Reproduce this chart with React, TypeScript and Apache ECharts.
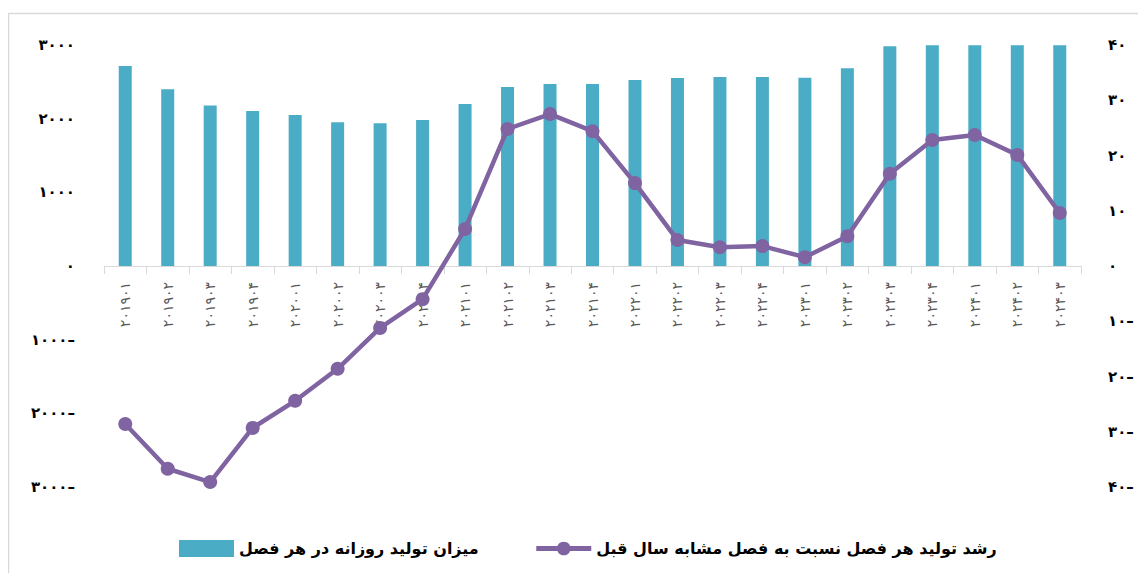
import React, { useEffect, useRef } from "react";
import * as echarts from "echarts";

const categories = [
  "۲۰۱۹۰۱", "۲۰۱۹۰۲", "۲۰۱۹۰۳", "۲۰۱۹۰۴",
  "۲۰۲۰۰۱", "۲۰۲۰۰۲", "۲۰۲۰۰۳", "۲۰۲۰۰۴",
  "۲۰۲۱۰۱", "۲۰۲۱۰۲", "۲۰۲۱۰۳", "۲۰۲۱۰۴",
  "۲۰۲۲۰۱", "۲۰۲۲۰۲", "۲۰۲۲۰۳", "۲۰۲۲۰۴",
  "۲۰۲۳۰۱", "۲۰۲۳۰۲", "۲۰۲۳۰۳", "۲۰۲۳۰۴",
  "۲۰۲۴۰۱", "۲۰۲۴۰۲", "۲۰۲۴۰۳",
];

const dailyProduction = [
  2715, 2400, 2180, 2105, 2050, 1950, 1937, 1982,
  2200, 2430, 2470, 2470, 2525, 2552, 2566, 2566,
  2556, 2684, 2982, 2995, 2995, 2995, 2995,
];

const yoyGrowth = [
  -28.6, -36.7, -39.1, -29.3, -24.4, -18.6, -11.2, -6.0,
  6.7, 24.8, 27.5, 24.4, 15.0, 4.7, 3.4, 3.6,
  1.6, 5.4, 16.7, 22.8, 23.7, 20.1, 9.6,
];

const barName = "میزان تولید روزانه در هر فصل";
const lineName = "رشد تولید هر فصل نسبت به فصل مشابه سال قبل";

const persianDigits = "۰۱۲۳۴۵۶۷۸۹";
const toPersian = (v: number) => {
  const s = String(Math.abs(v)).replace(/[0-9]/g, (d) => persianDigits[Number(d)]);
  return v < 0 ? s + "–" : s;
};

const FONT = "DejaVu Sans";

export default function App() {
  const ref = useRef<HTMLDivElement>(null);
  useEffect(() => {
    if (!ref.current) return;
    const chart = echarts.init(ref.current, undefined, { renderer: "svg" });
    chart.setOption({
      animation: false,
      backgroundColor: "#ffffff",
      textStyle: { fontFamily: FONT },
      graphic: [
        {
          type: "rect",
          shape: { x: 0.5, y: 5.5, width: 1300, height: 800 },
          style: { fill: "none", stroke: "#d9d9d9", lineWidth: 1.5 },
          silent: true,
          z: -10,
        },
      ],
      grid: { left: 96, right: 57, top: 37, bottom: 86, containLabel: false },
      legend: {
        left: 166,
        top: 527,
        itemWidth: 55,
        itemHeight: 17,
        itemGap: 55,
        data: [
          { name: barName, icon: "rect" },
          { name: lineName, lineStyle: { width: 5 } },
        ],
        textStyle: { fontFamily: FONT, fontWeight: "bold", fontSize: 16, color: "#000" },
      },
      xAxis: {
        type: "category",
        data: categories,
        boundaryGap: true,
        offset: -221,
        axisLine: { onZero: false, lineStyle: { color: "#d9d9d9", width: 1 } },
        axisTick: { show: true, length: 8, lineStyle: { color: "#d9d9d9" } },
        axisLabel: {
          rotate: 90,
          margin: 16,
          interval: 0,
          fontFamily: FONT,
          fontSize: 14,
          color: "#595959",
        },
        splitLine: { show: false },
      },
      yAxis: [
        {
          type: "value",
          min: -3000,
          max: 3000,
          interval: 1000,
          axisLine: { show: false },
          axisTick: { show: false },
          splitLine: { show: false },
          axisLabel: {
            margin: 29,
            fontFamily: FONT,
            fontWeight: "bold",
            fontSize: 15,
            color: "#000",
            formatter: (v: number) => toPersian(v),
          },
        },
        {
          type: "value",
          min: -40,
          max: 40,
          interval: 10,
          position: "right",
          axisLine: { show: false },
          axisTick: { show: false },
          splitLine: { show: false },
          axisLabel: {
            margin: 27,
            fontFamily: FONT,
            fontWeight: "bold",
            fontSize: 15,
            color: "#000",
            formatter: (v: number) => toPersian(v),
          },
        },
      ],
      series: [
        {
          name: barName,
          type: "bar",
          yAxisIndex: 0,
          data: dailyProduction,
          barWidth: 13,
          itemStyle: { color: "#4BACC6" },
          z: 2,
        },
        {
          name: lineName,
          type: "line",
          yAxisIndex: 1,
          data: yoyGrowth,
          symbol: "circle",
          symbolSize: 14,
          lineStyle: { color: "#8064A2", width: 4.5 },
          itemStyle: { color: "#8064A2" },
          z: 5,
        },
      ],
    });
    return () => chart.dispose();
  }, []);
  return <div ref={ref} style={{ width: 1130, height: 565 }} />;
}
